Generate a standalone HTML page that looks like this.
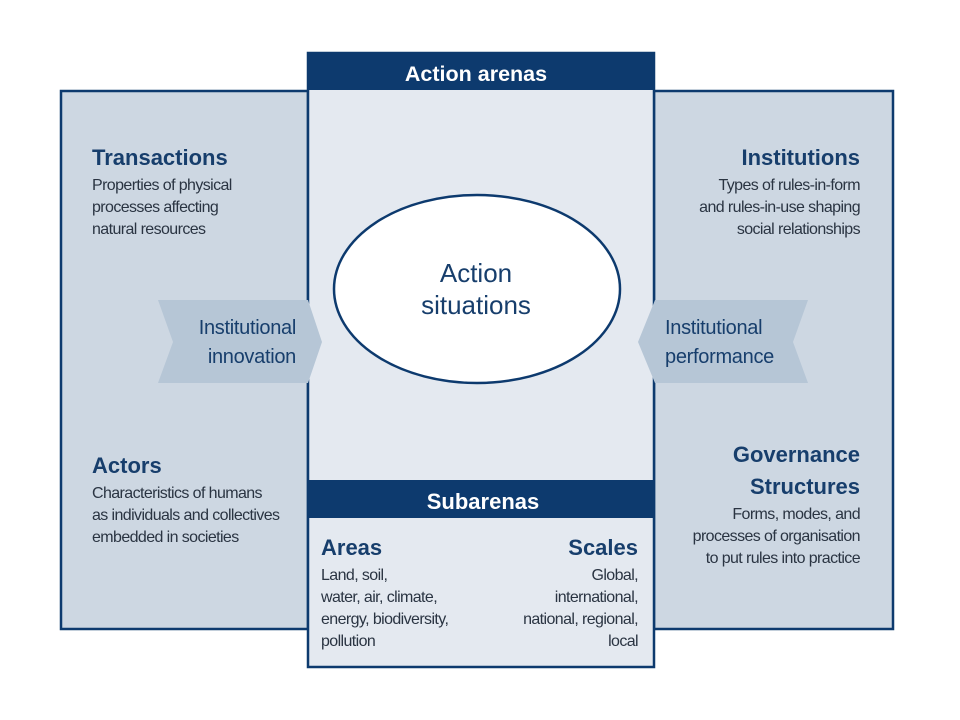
<!DOCTYPE html>
<html><head><meta charset="utf-8"><style>
html,body{margin:0;padding:0;background:#fff;}
svg{display:block;}
text{font-family:"Liberation Sans",Arial,sans-serif;}
.t{font-weight:bold;font-size:22px;fill:#173e6c;}
.b{font-size:16px;fill:#2a3442;letter-spacing:-0.6px;}
.a{font-size:20px;fill:#173e6c;letter-spacing:-0.3px;}
</style></head><body>
<svg width="960" height="720" viewBox="0 0 960 720">
<rect x="61" y="91" width="247" height="538" fill="#cdd7e2" stroke="#0d3a6e" stroke-width="2.5"/>
<rect x="654" y="91" width="239" height="538" fill="#cdd7e2" stroke="#0d3a6e" stroke-width="2.5"/>
<rect x="308" y="53" width="346" height="614" fill="#e4e9f0" stroke="#0d3a6e" stroke-width="2.5"/>
<rect x="308" y="53" width="346" height="37" fill="#0d3a6e"/>
<rect x="308" y="480" width="346" height="38" fill="#0d3a6e"/>
<text x="476" y="81" text-anchor="middle" font-weight="bold" font-size="21.5" fill="#fff">Action arenas</text>
<text x="483" y="509" text-anchor="middle" font-weight="bold" font-size="22" fill="#fff">Subarenas</text>
<ellipse cx="477" cy="289" rx="143" ry="94" fill="#fff" stroke="#0d3a6e" stroke-width="2.5"/>
<text x="476" y="282" text-anchor="middle" font-size="26" fill="#173e6c">Action</text>
<text x="476" y="314" text-anchor="middle" font-size="26" fill="#173e6c">situations</text>
<polygon points="158,300 308,300 322,342 308,383 158,383 173,342" fill="#b6c6d6"/>
<polygon points="808,300 655,300 638,342 655,383 808,383 793,342" fill="#b6c6d6"/>
<text x="296" y="334" text-anchor="end" class="a">Institutional</text>
<text x="296" y="363" text-anchor="end" class="a">innovation</text>
<text x="665" y="334" class="a">Institutional</text>
<text x="665" y="363" class="a">performance</text>
<text x="92" y="165" class="t">Transactions</text>
<text x="92" y="190" class="b">Properties of physical</text>
<text x="92" y="212" class="b">processes affecting</text>
<text x="92" y="234" class="b">natural resources</text>
<text x="92" y="473" class="t">Actors</text>
<text x="92" y="498" class="b">Characteristics of humans</text>
<text x="92" y="520" class="b">as individuals and collectives</text>
<text x="92" y="542" class="b">embedded in societies</text>
<text x="860" y="165" text-anchor="end" class="t">Institutions</text>
<text x="860" y="190" text-anchor="end" class="b">Types of rules-in-form</text>
<text x="860" y="212" text-anchor="end" class="b">and rules-in-use shaping</text>
<text x="860" y="234" text-anchor="end" class="b">social relationships</text>
<text x="860" y="462" text-anchor="end" class="t">Governance</text>
<text x="860" y="494" text-anchor="end" class="t">Structures</text>
<text x="860" y="519" text-anchor="end" class="b">Forms, modes, and</text>
<text x="860" y="541" text-anchor="end" class="b">processes of organisation</text>
<text x="860" y="563" text-anchor="end" class="b">to put rules into practice</text>
<text x="321" y="555" class="t">Areas</text>
<text x="321" y="580" class="b">Land, soil,</text>
<text x="321" y="602" class="b">water, air, climate,</text>
<text x="321" y="624" class="b">energy, biodiversity,</text>
<text x="321" y="646" class="b">pollution</text>
<text x="638" y="555" text-anchor="end" class="t">Scales</text>
<text x="638" y="580" text-anchor="end" class="b">Global,</text>
<text x="638" y="602" text-anchor="end" class="b">international,</text>
<text x="638" y="624" text-anchor="end" class="b">national, regional,</text>
<text x="638" y="646" text-anchor="end" class="b">local</text>
</svg>
</body></html>
